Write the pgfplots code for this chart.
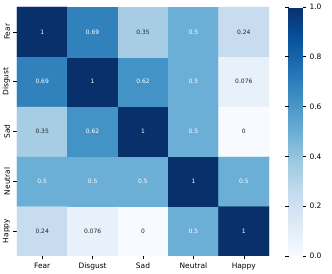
\documentclass[border=0pt]{standalone}
\usepackage{pgfplots}
\pgfplotsset{compat=1.18}
\usepackage{fontspec}
\setmainfont{DejaVu Sans}
\definecolor{annodark}{RGB}{38,38,38}
\begin{document}
\begin{tikzpicture}
\begin{axis}[
  name=main,
  scale only axis,
  width=252bp, height=249bp,
  xmin=-0.5, xmax=4.5, ymin=-0.5, ymax=4.5,
  enlargelimits=false,
  axis line style={draw=none},
  tick align=outside,
  major tick length=3.5bp,
  tick style={black, line width=0.6pt},
  xtick={0,1,2,3,4},
  ytick={0,1,2,3,4},
  xticklabels={Fear,Disgust,Sad,Neutral,Happy},
  yticklabels={Happy,Neutral,Sad,Disgust,Fear},
  xtick pos=bottom, ytick pos=left,
  yticklabel style={rotate=90, anchor=south},
  ticklabel style={font=\fontsize{7.5}{8}\selectfont},
  /pgf/number format/assume math mode=true,
  colormap={blues}{rgb255(0)=(247,251,255) rgb255(1)=(222,235,247) rgb255(2)=(198,219,239) rgb255(3)=(158,202,225) rgb255(4)=(107,174,214) rgb255(5)=(66,146,198) rgb255(6)=(33,113,181) rgb255(7)=(8,81,156) rgb255(8)=(8,48,107)},
  point meta min=0, point meta max=1,
  colorbar,
  colorbar style={
    width=14bp,
    xshift=11bp,
    axis line style={draw=none},
    ytick={0,0.2,0.4,0.6,0.8,1.0},
    yticklabel style={/pgf/number format/.cd, fixed, fixed zerofill, precision=1, /tikz/.cd, font=\fontsize{7.5}{8}\selectfont},
    tick align=outside,
    major tick length=3.5bp,
    tick style={black, line width=0.6pt},
    /pgf/number format/assume math mode=true,
  },
]
\addplot[matrix plot*, mesh/cols=5, point meta=explicit] table[meta=c] {
x y c
0 0 0.24
1 0 0.076
2 0 0
3 0 0.5
4 0 1
0 1 0.5
1 1 0.5
2 1 0.5
3 1 1
4 1 0.5
0 2 0.35
1 2 0.62
2 2 1
3 2 0.5
4 2 0
0 3 0.69
1 3 1
2 3 0.62
3 3 0.5
4 3 0.076
0 4 1
1 4 0.69
2 4 0.35
3 4 0.5
4 4 0.24
};
% white annotations
\addplot[draw=none, mark=none, point meta=explicit symbolic,
  nodes near coords, nodes near coords align=center,
  every node near coord/.append style={font=\fontsize{6}{7}\selectfont, text=white, anchor=center}]
  table[meta=lab] {
x y lab
3 0 0.5
4 0 1
0 1 0.5
1 1 0.5
2 1 0.5
3 1 1
4 1 0.5
1 2 0.62
2 2 1
3 2 0.5
0 3 0.69
1 3 1
2 3 0.62
3 3 0.5
0 4 1
1 4 0.69
3 4 0.5
};
% dark annotations
\addplot[draw=none, mark=none, point meta=explicit symbolic,
  nodes near coords, nodes near coords align=center,
  every node near coord/.append style={font=\fontsize{6}{7}\selectfont, text=annodark, anchor=center}]
  table[meta=lab] {
x y lab
0 0 0.24
1 0 0.076
2 0 0
0 2 0.35
4 2 0
4 3 0.076
2 4 0.35
4 4 0.24
};
\end{axis}
\pgfresetboundingbox
\path ([xshift=-17bp,yshift=-18bp]main.south west) rectangle ([xshift=63bp,yshift=7bp]main.north east);
\end{tikzpicture}
\end{document}
